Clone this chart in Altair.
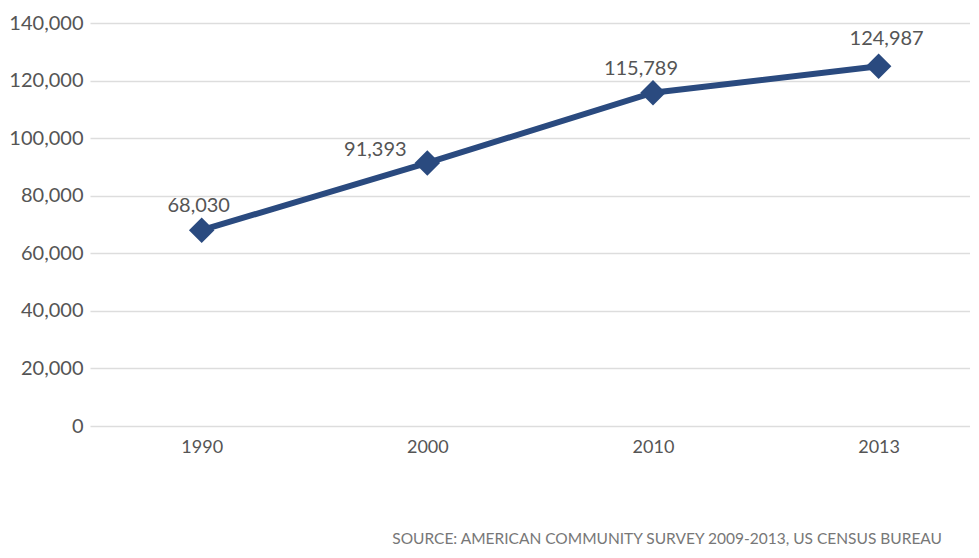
import altair as alt
import pandas as pd

years = ["1990", "2000", "2010", "2013"]
values = [68030, 91393, 115789, 124987]
labels = ["68,030", "91,393", "115,789", "124,987"]
y_ticks = [0, 20000, 40000, 60000, 80000, 100000, 120000, 140000]

# label nudges (style only)
label_dx = [-3, -52, -12, 8]
label_dy = [-24, -13, -24, -27]

df = pd.DataFrame({"year": years, "value": values, "label": labels})

FONT = "Lato"
NAVY = "#2a4a7f"
GRAY = "#555555"

x_enc = alt.X("year:N", sort=years,
              scale=alt.Scale(type="point", padding=0.45, align=0.55),
              axis=alt.Axis(title=None, labelAngle=0, ticks=False, domain=False,
                            grid=False, labelFontSize=18, labelColor=GRAY,
                            labelFont=FONT, labelPadding=12))
y_enc = alt.Y("value:Q", scale=alt.Scale(domain=[0, 140000], nice=False),
              axis=alt.Axis(title=None, values=y_ticks, format=",d", ticks=False,
                            domain=False, gridColor="#dddddd", gridWidth=1.5,
                            labelFontSize=20, labelColor=GRAY, labelFont=FONT,
                            labelPadding=7))

base = alt.Chart(df)
line = base.mark_line(color=NAVY, strokeWidth=6).encode(x=x_enc, y=y_enc)
pts = base.mark_point(shape="diamond", filled=True, color=NAVY, size=650, opacity=1).encode(x=x_enc, y=y_enc)

layers = [line, pts]
for i, yr in enumerate(years):
    layers.append(
        base.transform_filter(alt.datum.year == yr)
        .mark_text(fontSize=20, font=FONT, color=GRAY, dx=label_dx[i], dy=label_dy[i])
        .encode(x=x_enc, y=y_enc, text="label:N")
    )

chart = alt.layer(*layers).properties(
    width=880, height=403,
    autosize=alt.AutoSizeParams(type="none"),
    padding={"left": 82, "top": 15, "right": 0, "bottom": 122},
    title=alt.TitleParams("SOURCE: AMERICAN COMMUNITY SURVEY 2009-2013, US CENSUS BUREAU",
                          orient="bottom", anchor="end", fontSize=15.5, font=FONT,
                          fontWeight="normal", color="#777777", offset=76, dx=-28),
).configure_view(stroke=None)

chart.save("out.html", embed_options={"renderer": "svg", "actions": False})
